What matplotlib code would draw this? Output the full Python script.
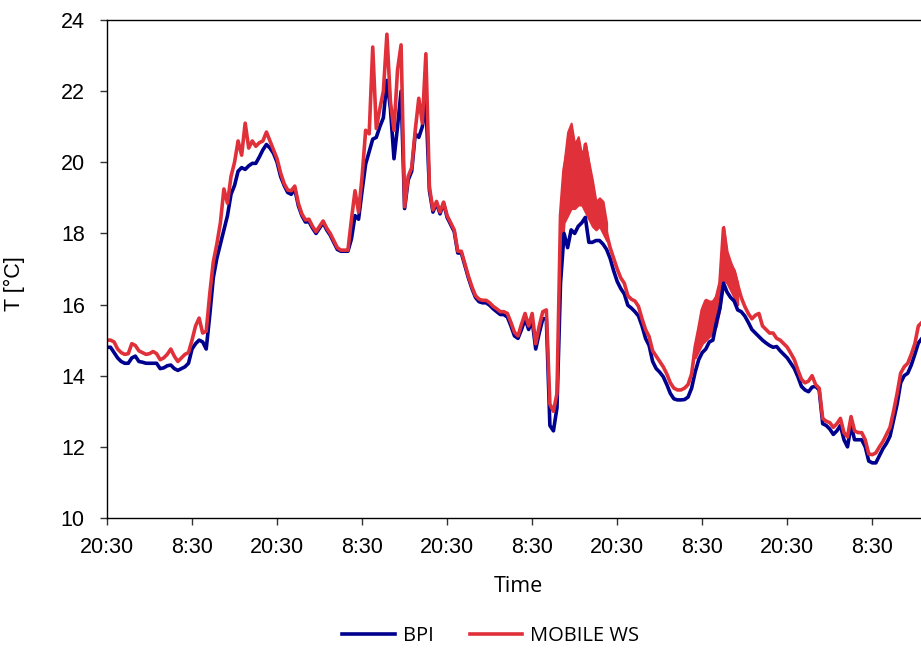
import numpy as np
import matplotlib.pyplot as plt

# temperaturas registradas cada media hora desde las 20:30
paso_h = 0.5

bpi = [
    14.8, 14.8, 14.65, 14.5, 14.4, 14.35, 14.35, 14.5, 14.55, 14.4, 14.38, 14.35,
    14.35, 14.35, 14.35, 14.2, 14.22, 14.28, 14.3, 14.2, 14.15, 14.2, 14.25, 14.35,
    14.75, 14.9, 15.0, 14.95, 14.75, 15.7, 16.75, 17.3, 17.7, 18.1, 18.5, 19.1,
    19.35, 19.75, 19.85, 19.8, 19.9, 19.97, 19.97, 20.15, 20.35, 20.5, 20.4, 20.25,
    20.0, 19.6, 19.35, 19.15, 19.1, 19.25, 18.78, 18.5, 18.32, 18.33, 18.15, 18.0,
    18.15, 18.3, 18.1, 17.95, 17.75, 17.55, 17.5, 17.5, 17.5, 17.85, 18.5, 18.4,
    19.2, 19.95, 20.3, 20.65, 20.7, 21.0, 21.25, 22.3, 21.5, 20.1, 21.0, 22.0,
    18.7, 19.5, 19.75, 20.8, 20.7, 21.0, 21.7, 19.2, 18.6, 18.85, 18.55, 18.85,
    18.45, 18.25, 18.05, 17.45, 17.45, 17.1, 16.75, 16.45, 16.2, 16.08, 16.05, 16.05,
    15.98, 15.88, 15.8, 15.72, 15.72, 15.65, 15.4, 15.12, 15.05, 15.3, 15.6, 15.3,
    15.55, 14.75, 15.2, 15.6, 15.6, 12.6, 12.45, 13.1, 16.6, 18.0, 17.6, 18.1,
    18.0, 18.2, 18.3, 18.45, 17.75, 17.75, 17.8, 17.8, 17.7, 17.55, 17.3, 16.95,
    16.65, 16.45, 16.3, 15.98, 15.9, 15.8, 15.68, 15.4, 15.05, 14.85, 14.4, 14.2,
    14.1, 13.97, 13.75, 13.5, 13.35, 13.32, 13.32, 13.33, 13.4, 13.65, 14.1, 14.45,
    14.65, 14.75, 14.95, 15.0, 15.5, 15.9, 16.6, 16.35, 16.2, 16.1, 15.85, 15.8,
    15.68, 15.5, 15.3, 15.2, 15.1, 15.0, 14.92, 14.85, 14.8, 14.82, 14.7, 14.6,
    14.5, 14.35, 14.2, 13.97, 13.7, 13.6, 13.55, 13.68, 13.7, 13.6, 12.65, 12.6,
    12.5, 12.35, 12.45, 12.6, 12.2, 12.0, 12.6, 12.2, 12.2, 12.2, 12.0, 11.6,
    11.55, 11.55, 11.75, 11.95, 12.1, 12.3, 12.75, 13.2, 13.8, 14.0, 14.07, 14.3,
    14.6, 14.92, 15.05,
]

mobile_ws = [
    15.0, 15.0, 14.95, 14.75, 14.65, 14.6, 14.62, 14.9, 14.85, 14.7, 14.65, 14.6,
    14.62, 14.68, 14.62, 14.45, 14.5, 14.6, 14.75, 14.55, 14.4, 14.5, 14.6, 14.65,
    15.0, 15.4, 15.62, 15.2, 15.25, 16.3, 17.2, 17.7, 18.3, 19.25, 18.85, 19.6,
    20.0, 20.6, 20.2, 21.1, 20.4, 20.6, 20.45, 20.55, 20.6, 20.85, 20.6, 20.35,
    20.1, 19.7, 19.4, 19.22, 19.2, 19.33, 18.85, 18.55, 18.38, 18.4, 18.2, 18.05,
    18.2, 18.35, 18.15, 18.0, 17.8, 17.6, 17.53, 17.53, 17.53, 18.4, 19.2, 18.6,
    19.6, 20.9, 20.8, 23.24, 20.95, 21.5, 22.0, 23.6, 21.7, 20.9, 22.6, 23.3,
    18.75, 19.6, 19.85, 20.9, 21.8, 21.1, 23.05, 19.3, 18.66, 18.9, 18.6, 18.88,
    18.5, 18.3, 18.1, 17.5, 17.5, 17.15, 16.8, 16.5, 16.25, 16.15, 16.12, 16.12,
    16.05, 15.95, 15.88, 15.8, 15.8, 15.75, 15.5, 15.22, 15.12, 15.45, 15.75, 15.4,
    15.75, 14.9, 15.4, 15.8, 15.85, 13.2, 13.0, 13.5, 18.5, 19.8, 20.3, 20.8,
    20.3, 20.6, 19.5, 20.5, 19.9, 19.2, 18.7, 18.8, 18.7, 18.0, 17.6, 17.3,
    17.0, 16.75, 16.6, 16.25, 16.15, 16.1, 15.95, 15.6, 15.3, 15.1, 14.7, 14.55,
    14.4, 14.25, 14.05, 13.8, 13.65, 13.6, 13.6, 13.65, 13.75, 14.05, 14.8, 15.3,
    15.85, 16.1, 15.6, 16.05, 16.2, 16.6, 18.15, 17.3, 17.1, 16.95, 16.55, 16.2,
    15.95, 15.75, 15.6, 15.7, 15.75, 15.4, 15.3, 15.2, 15.2, 15.05, 15.0, 14.9,
    14.8, 14.63, 14.45, 14.16, 13.9, 13.8, 13.85, 14.0, 13.75, 13.65, 12.8, 12.72,
    12.68, 12.55, 12.65, 12.8, 12.4, 12.28, 12.85, 12.45, 12.4, 12.4, 12.2, 11.8,
    11.78, 11.83, 12.0, 12.15, 12.35, 12.55, 13.0, 13.5, 14.07, 14.25, 14.35, 14.6,
    14.9, 15.4, 15.5,
]

# rango (mín/máx) de la estación móvil en los tramos con más oscilación
ruido1_h = [64, 64.5, 65, 65.5, 66, 66.5, 67, 67.5, 68, 68.5, 69, 69.5, 70, 70.5]
ruido1_min = [17.0, 18.3, 18.5, 18.7, 18.7, 18.8, 18.8, 18.6, 18.4, 18.2, 18.1, 18.2, 18.0, 17.8]
ruido1_max = [18.5, 20.0, 20.85, 21.1, 20.5, 20.72, 20.2, 20.55, 20.0, 19.5, 18.9, 19.0, 18.9, 18.3]

ruido2_h = [83, 83.5, 84, 84.5, 85, 85.5, 86, 86.5, 87, 87.5, 88, 88.5, 89]
ruido2_min = [14.5, 14.7, 14.9, 15.0, 15.1, 15.2, 15.4, 15.9, 16.7, 16.6, 16.4, 16.2, 16.0]
ruido2_max = [14.9, 15.4, 15.9, 16.15, 16.1, 16.1, 16.25, 16.7, 18.2, 17.5, 17.2, 16.95, 16.6]

horas_tick = [0, 12, 24, 36, 48, 60, 72, 84, 96, 108]
etiquetas_tick = ['20:30', '8:30', '20:30', '8:30', '20:30', '8:30', '20:30', '8:30', '20:30', '8:30']

t = np.arange(len(bpi)) * paso_h

azul = '#00008f'
rojo = '#e0303a'

plt.rcParams['font.family'] = ['Liberation Sans', 'DejaVu Sans']

fig = plt.figure(figsize=(9.21, 6.54), dpi=100)
ax = fig.add_axes([107 / 921, 136 / 654, 822 / 921, 498 / 654])

ax.plot(t, bpi, color=azul, lw=2.6, label='BPI', solid_joinstyle='round')
ax.plot(t, mobile_ws, color=rojo, lw=2.6, label='MOBILE WS', solid_joinstyle='round')
ax.fill_between(ruido1_h, ruido1_min, ruido1_max, color=rojo, lw=1.5, edgecolor=rojo)
ax.fill_between(ruido2_h, ruido2_min, ruido2_max, color=rojo, lw=1.5, edgecolor=rojo)

ax.set_xlim(0, 116)
ax.set_ylim(10, 24)
ax.set_yticks(range(10, 25, 2))
ax.set_xticks(horas_tick)
ax.set_xticklabels(etiquetas_tick)
ax.tick_params(axis='both', labelsize=15.5, length=5, width=1, color='#333333')
ax.tick_params(axis='y', pad=11)
ax.tick_params(axis='x', pad=9)

ax.spines['right'].set_visible(False)
for s in ['left', 'bottom', 'top']:
    ax.spines[s].set_linewidth(1.0)

ax.set_xlabel('Time', fontsize=15.5, family=['Open Sans', 'DejaVu Sans'], labelpad=13)
ax.set_ylabel('T [°C]', fontsize=15.5)
ax.yaxis.set_label_coords(-0.1, 0.47)

fig.legend(loc='center', bbox_to_anchor=(0.533, 0.027), ncol=2, frameon=False,
           prop={'family': ['Open Sans', 'DejaVu Sans'], 'size': 14.5},
           handlelength=2.6, columnspacing=1.8, handletextpad=0.4)

fig.savefig('out.png', dpi=100)
